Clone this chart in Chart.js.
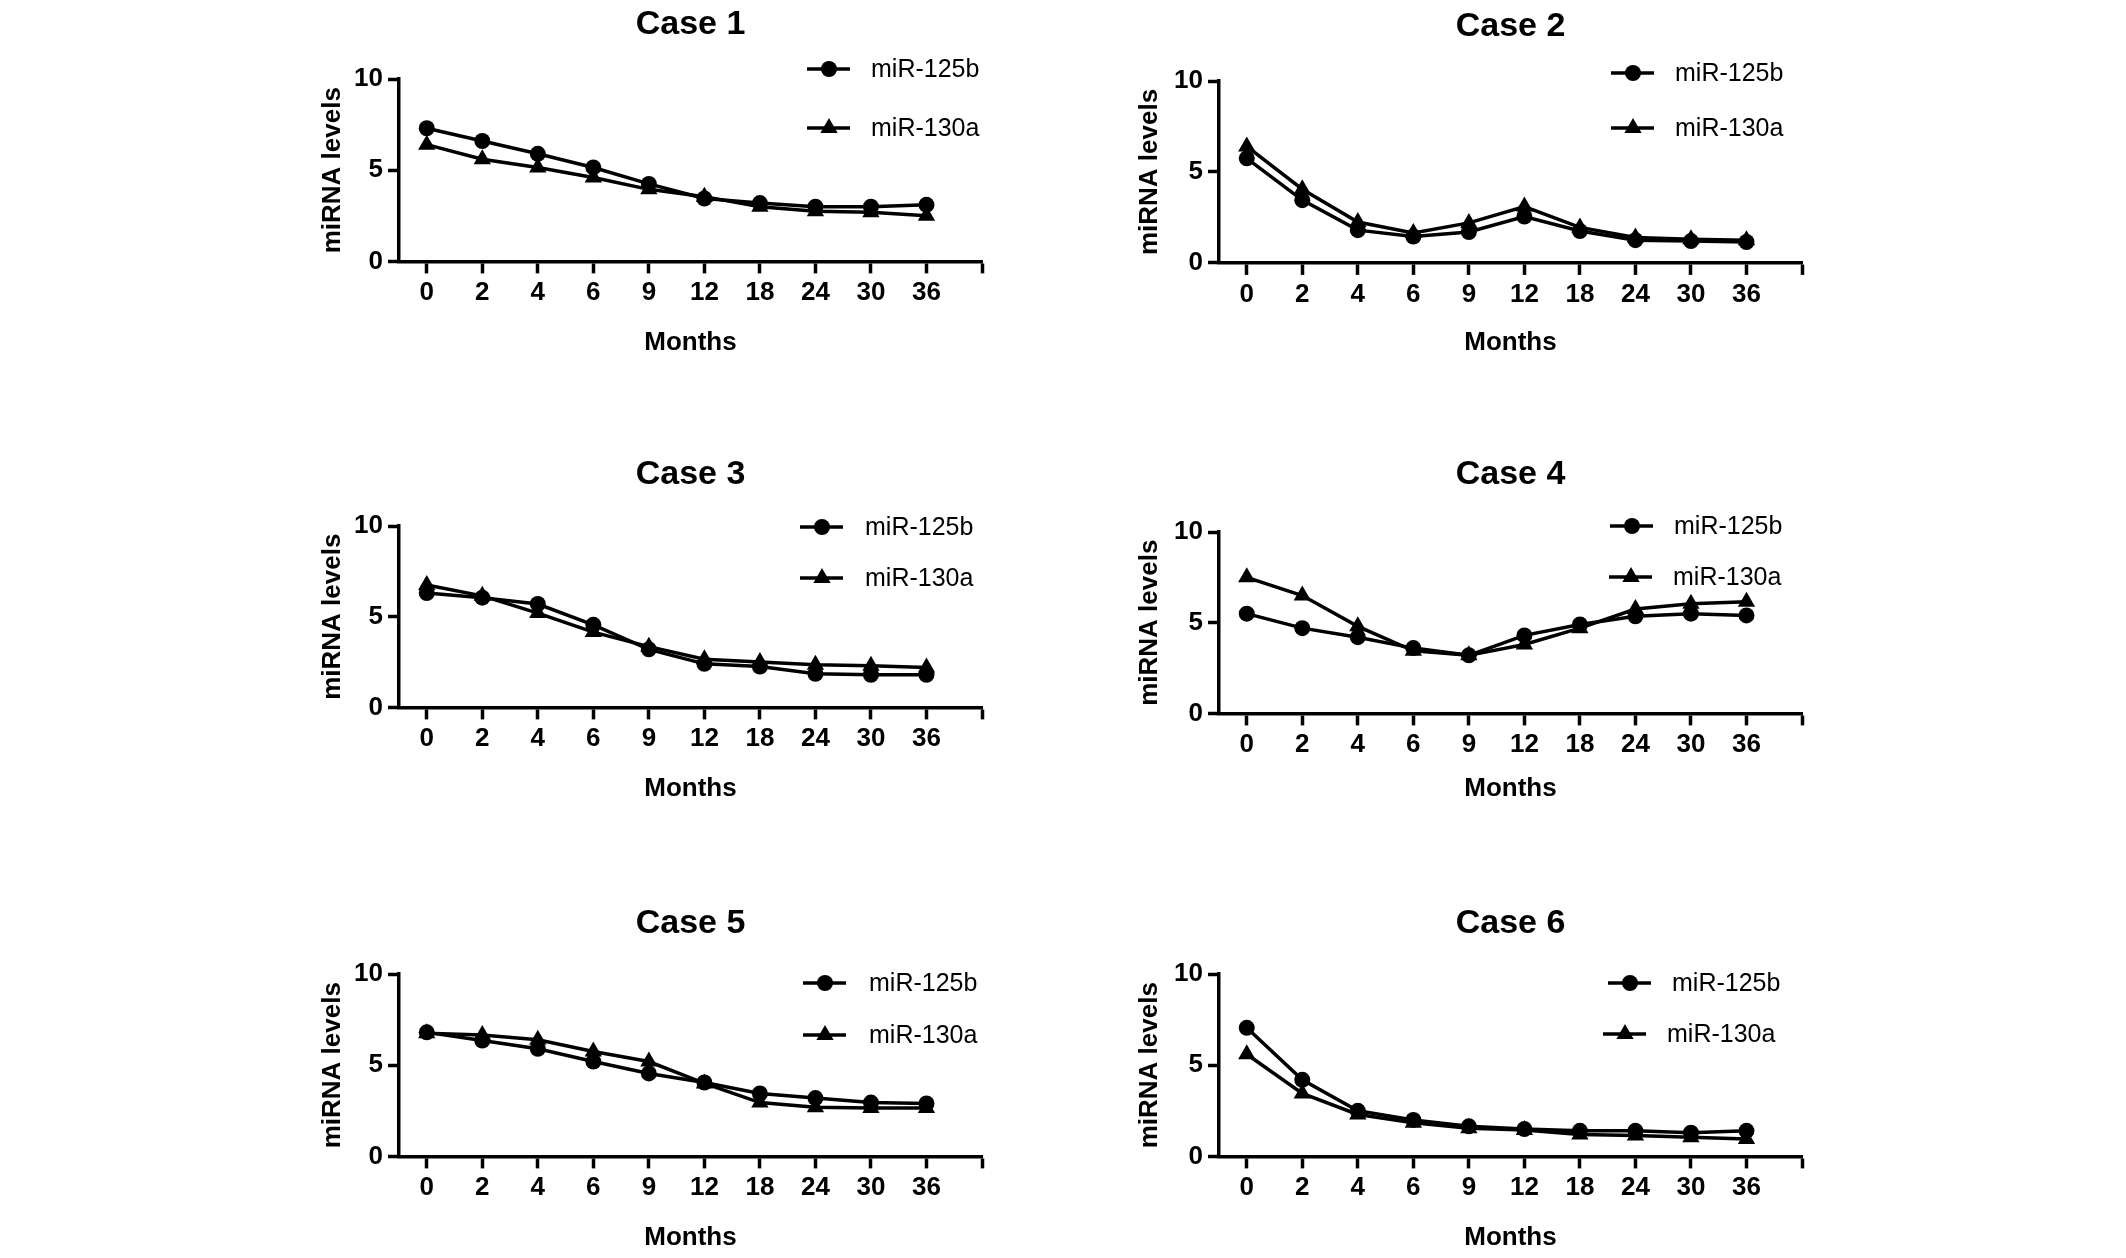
<!DOCTYPE html>
<html lang="en">
<head>
    <meta charset="UTF-8">
    <title>miRNA levels by case</title>
    <style>
        body { margin: 0; background: #fff; width: 2126px; height: 1258px; position: relative; overflow: hidden; }
        canvas { position: absolute; }
    </style>
    <script src="https://cdn.jsdelivr.net/npm/chart.js@4.4.1/dist/chart.umd.min.js"></script>
</head>
<body>
    <canvas id="case1"></canvas>
    <canvas id="case2"></canvas>
    <canvas id="case3"></canvas>
    <canvas id="case4"></canvas>
    <canvas id="case5"></canvas>
    <canvas id="case6"></canvas>

    <script>
        // data
        const months = ['0', '2', '4', '6', '9', '12', '18', '24', '30', '36'];
        const seriesNames = ['miR-125b', 'miR-130a'];
        const caseTitles = ['Case 1', 'Case 2', 'Case 3', 'Case 4', 'Case 5', 'Case 6'];

        const case1_125b = [7.3, 6.6, 5.9, 5.15, 4.25, 3.45, 3.2, 3.0, 3.0, 3.1];
        const case1_130a = [6.4, 5.6, 5.15, 4.6, 3.95, 3.55, 3.0, 2.75, 2.7, 2.5];
        const case2_125b = [5.75, 3.45, 1.8, 1.45, 1.7, 2.55, 1.75, 1.25, 1.2, 1.15];
        const case2_130a = [6.4, 4.05, 2.25, 1.65, 2.2, 3.1, 1.95, 1.4, 1.3, 1.25];
        const case3_125b = [6.3, 6.05, 5.7, 4.55, 3.2, 2.4, 2.25, 1.85, 1.8, 1.8];
        const case3_130a = [6.75, 6.15, 5.2, 4.15, 3.35, 2.65, 2.5, 2.35, 2.3, 2.2];
        const case4_125b = [5.5, 4.7, 4.2, 3.6, 3.2, 4.3, 4.9, 5.35, 5.5, 5.4];
        const case4_130a = [7.5, 6.5, 4.8, 3.45, 3.2, 3.8, 4.7, 5.75, 6.05, 6.15];
        const case5_125b = [6.8, 6.35, 5.9, 5.2, 4.55, 4.05, 3.45, 3.2, 2.95, 2.9];
        const case5_130a = [6.75, 6.65, 6.4, 5.75, 5.2, 4.0, 2.95, 2.7, 2.65, 2.65];
        const case6_125b = [7.05, 4.2, 2.5, 2.0, 1.65, 1.5, 1.4, 1.4, 1.3, 1.4];
        const case6_130a = [5.6, 3.45, 2.3, 1.85, 1.55, 1.45, 1.2, 1.15, 1.05, 0.95];

        const caseData = [
            [case1_125b, case1_130a], [case2_125b, case2_130a],
            [case3_125b, case3_130a], [case4_125b, case4_130a],
            [case5_125b, case5_130a], [case6_125b, case6_130a]
        ];

        // page layout (pixels on the page)
        const cols = [
            { L: 300, areaLeft: 399, areaRight: 982, yTitleX: 333 },
            { L: 1120, areaLeft: 1219, areaRight: 1802, yTitleX: 1150 }
        ];
        const panels = [
            { col: 0, top: 79, bottom: 262, titleY: 25, monthsY: 343, legY: [69, 128], markX: [829, 829], textX: [871, 871] },
            { col: 1, top: 81, bottom: 263.5, titleY: 27, monthsY: 343, legY: [73, 128], markX: [1633, 1633], textX: [1675, 1675] },
            { col: 0, top: 526, bottom: 708, titleY: 475, monthsY: 789, legY: [527, 578], markX: [822, 822], textX: [865, 865] },
            { col: 1, top: 532, bottom: 714, titleY: 475, monthsY: 789, legY: [526, 577], markX: [1632, 1631], textX: [1674, 1673] },
            { col: 0, top: 974, bottom: 1157, titleY: 924, monthsY: 1238, legY: [983, 1035], markX: [825, 825], textX: [869, 869] },
            { col: 1, top: 974, bottom: 1157, titleY: 924, monthsY: 1238, legY: [983, 1034], markX: [1630, 1625], textX: [1672, 1667] }
        ];

        const FONT = "'Liberation Sans', Arial, sans-serif";
        const LW = 3.5;
        const pointStyles = ['circle', 'triangle'];
        const pointSizes = [8, 10];

        function marker(ctx, style, r, x, y) {
            ctx.beginPath();
            if (style === 'circle') {
                ctx.arc(x, y, r, 0, Math.PI * 2);
            } else {
                ctx.moveTo(x, y - r);
                ctx.lineTo(x + 0.866 * r, y + 0.5 * r);
                ctx.lineTo(x - 0.866 * r, y + 0.5 * r);
                ctx.closePath();
            }
            ctx.fill();
        }

        // legend with a line through the marker, placed in the top right
        const lineLegend = {
            id: 'lineLegend',
            afterDraw(chart, args, opts) {
                const ctx = chart.ctx;
                ctx.save();
                ctx.fillStyle = '#000';
                ctx.strokeStyle = '#000';
                ctx.lineWidth = LW;
                ctx.font = '25px ' + FONT;
                ctx.textBaseline = 'middle';
                chart.data.datasets.forEach((ds, i) => {
                    const mx = opts.markX[i] - opts.L;
                    const my = opts.legY[i] - opts.T;
                    ctx.beginPath();
                    ctx.moveTo(mx - 22, my);
                    ctx.lineTo(mx + 21, my);
                    ctx.stroke();
                    marker(ctx, ds.pointStyle, ds.pointRadius, mx, my);
                    ctx.fillText(ds.label, opts.textX[i] - opts.L, my + 1);
                });
                ctx.restore();
            }
        };

        panels.forEach((p, k) => {
            const c = cols[p.col];
            const T = p.titleY - 22;
            const W = c.areaRight - c.L + 12;
            const H = p.monthsY + 15.6 - T;
            const canvas = document.getElementById('case' + (k + 1));
            canvas.width = W;
            canvas.height = H;
            canvas.style.left = c.L + 'px';
            canvas.style.top = T + 'px';

            const datasets = caseData[k].map((vals, s) => ({
                label: seriesNames[s],
                data: vals.map((v, i) => ({ x: i, y: v })),
                borderColor: '#000',
                backgroundColor: '#000',
                borderWidth: LW,
                pointStyle: pointStyles[s],
                pointRadius: pointSizes[s],
                pointBackgroundColor: '#000',
                pointBorderWidth: 0,
                tension: 0
            }));

            new Chart(canvas, {
                type: 'line',
                data: { datasets: datasets },
                plugins: [lineLegend],
                options: {
                    responsive: false,
                    animation: false,
                    devicePixelRatio: 1,
                    layout: { padding: { left: 0, right: 12, top: 0, bottom: 0 } },
                    plugins: {
                        legend: { display: false },
                        tooltip: { enabled: false },
                        title: {
                            display: true,
                            text: caseTitles[k],
                            fullSize: false,
                            color: '#000',
                            font: { family: FONT, size: 34, weight: 'bold' },
                            padding: { top: 1.6, bottom: p.top - p.titleY - 20.4 }
                        },
                        lineLegend: { L: c.L, T: T, legY: p.legY, markX: p.markX, textX: p.textX }
                    },
                    scales: {
                        x: {
                            type: 'linear',
                            min: -0.5,
                            max: 10,
                            afterBuildTicks: (scale) => {
                                scale.ticks = months.concat(['']).map((m, i) => ({ value: i }));
                            },
                            afterFit: (scale) => { scale.height = p.monthsY + 15.6 - p.bottom; },
                            ticks: {
                                autoSkip: false,
                                maxRotation: 0,
                                padding: 4,
                                color: '#000',
                                font: { family: FONT, size: 26, weight: 'bold' },
                                callback: (value) => months[value] !== undefined ? months[value] : ''
                            },
                            grid: { drawOnChartArea: false, tickLength: 12, tickWidth: LW, tickColor: '#000' },
                            border: { display: true, color: '#000', width: LW },
                            title: {
                                display: true,
                                text: 'Months',
                                color: '#000',
                                padding: { top: 0, bottom: 0 },
                                font: { family: FONT, size: 26, weight: 'bold' }
                            }
                        },
                        y: {
                            min: 0,
                            max: 10,
                            afterFit: (scale) => { scale.width = c.areaLeft - c.L; },
                            ticks: {
                                stepSize: 5,
                                padding: 5,
                                color: '#000',
                                font: { family: FONT, size: 26, weight: 'bold' }
                            },
                            grid: { drawOnChartArea: false, tickLength: 11, tickWidth: LW, tickColor: '#000' },
                            border: { display: true, color: '#000', width: LW },
                            title: {
                                display: true,
                                text: 'miRNA levels',
                                color: '#000',
                                padding: { top: c.yTitleX - c.L - 15.6, bottom: 0 },
                                font: { family: FONT, size: 26, weight: 'bold' }
                            }
                        }
                    }
                }
            });
        });
    </script>
</body>
</html>
